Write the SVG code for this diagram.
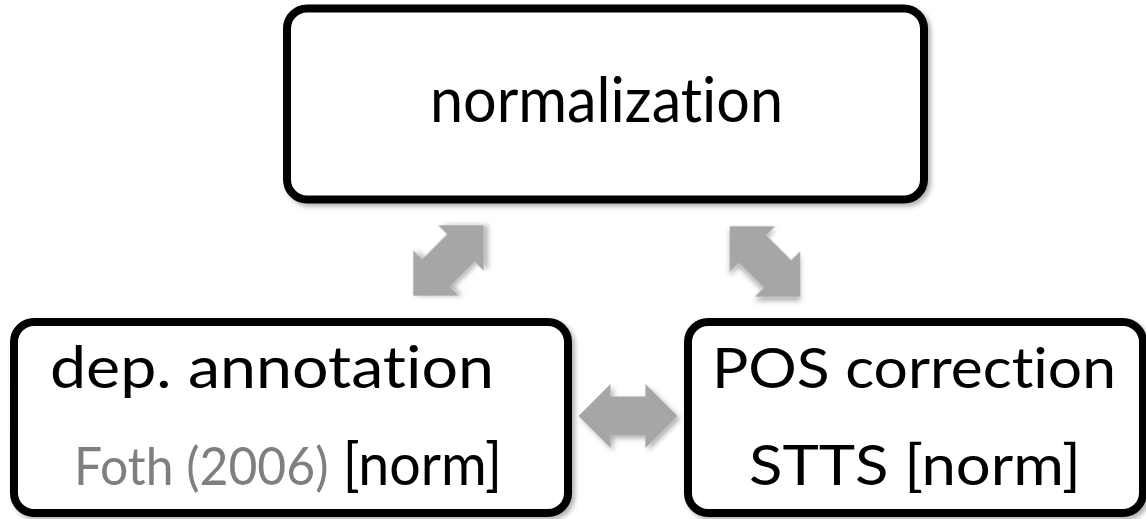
<svg xmlns="http://www.w3.org/2000/svg" width="1146" height="519" viewBox="0 0 1146 519">
<defs>
<filter id="sh" x="-10%" y="-10%" width="130%" height="130%">
<feDropShadow dx="3" dy="3" stdDeviation="2.5" flood-color="#000" flood-opacity="0.3"/>
</filter>
<path id="dbl" d="M-51,0 L-18,-33 L-18,-20 L18,-20 L18,-33 L51,0 L18,33 L18,20 L-18,20 L-18,33 Z"/>
</defs>
<style>
.box{fill:#fff;stroke:#000;stroke-width:8;filter:url(#sh)}
.t{font-family:Lato,"Open Sans",sans-serif;fill:#000;font-variant-ligatures:none;font-feature-settings:"liga" 0}
.g{fill:#7F7F7F}
.arr{fill:#A6A6A6;filter:url(#sh)}
</style>
<rect width="1146" height="519" fill="#fff"/>
<g id="connectors">
<use href="#dbl" class="arr" transform="translate(448.5,260.5) rotate(-45) scale(0.98)"/>
<use href="#dbl" class="arr" transform="translate(765,261.5) rotate(45) scale(0.98)"/>
<use href="#dbl" class="arr" transform="translate(628,416) scale(0.97)"/>
</g>
<g id="normalization">
<rect class="box" x="287" y="8.5" width="637" height="191" rx="20"/>
<text class="t" x="430" y="122" font-size="62" textLength="353" lengthAdjust="spacingAndGlyphs">normalization</text>
</g>
<g id="dep-annotation">
<rect class="box" x="14" y="322" width="554" height="191" rx="20"/>
<text class="t" x="50" y="388" font-size="58" textLength="444" lengthAdjust="spacingAndGlyphs">dep. annotation</text>
<text class="t" x="74" y="485" font-size="58" textLength="428" lengthAdjust="spacingAndGlyphs"><tspan class="g" font-size="52">Foth (2006)</tspan> [norm]</text>
</g>
<g id="pos-correction">
<rect class="box" x="688" y="322" width="455" height="191" rx="20"/>
<text class="t" x="712" y="388" font-size="57" textLength="404" lengthAdjust="spacingAndGlyphs">POS correction</text>
<text class="t" x="749" y="485" font-size="57" textLength="332" lengthAdjust="spacingAndGlyphs">STTS [norm]</text>
</g>
</svg>
